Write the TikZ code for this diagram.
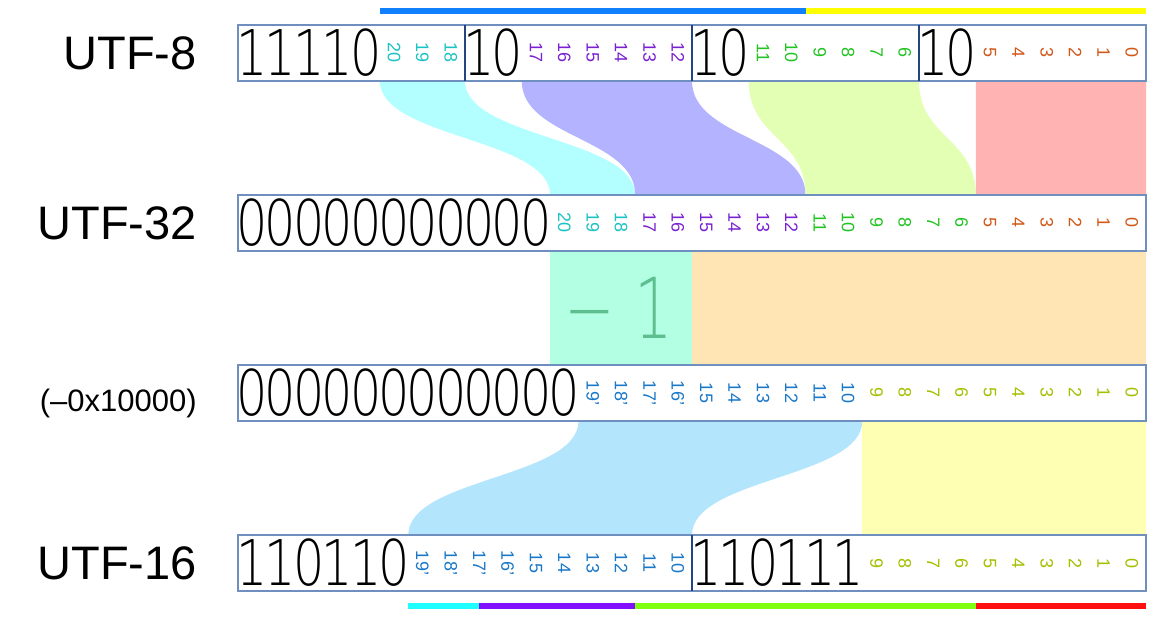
\documentclass[tikz,border=0pt]{standalone}
\usepackage{fontspec}
\setmainfont{Liberation Sans}
\newfontfamily\thinfont{DejaVu Sans ExtraLight}
\definecolor{boxline}{HTML}{6F8FBF}
\definecolor{divline}{HTML}{23467F}
\definecolor{cyanbit}{HTML}{1CC2C4}
\definecolor{purplebit}{HTML}{7A22D2}
\definecolor{greenbit}{HTML}{22C422}
\definecolor{orangebit}{HTML}{D2581A}
\definecolor{bluebit}{HTML}{1A78C8}
\definecolor{olivebit}{HTML}{A6C000}
\definecolor{cyanrib}{HTML}{B3FFFF}
\definecolor{purplerib}{HTML}{B3B3FF}
\definecolor{greenrib}{HTML}{E2FFB3}
\definecolor{redrib}{HTML}{FFB3B3}
\definecolor{mintrib}{HTML}{B3FFE3}
\definecolor{peachrib}{HTML}{FFE5B3}
\definecolor{bluerib}{HTML}{B3E5FC}
\definecolor{yellowrib}{HTML}{FFFFB3}
\definecolor{minusone}{HTML}{5DBF8F}
\definecolor{barblue}{HTML}{1080FF}
\definecolor{baryellow}{HTML}{FFFF00}
\definecolor{barcyan}{HTML}{20FFFF}
\definecolor{barpurple}{HTML}{8010FF}
\definecolor{bargreen}{HTML}{80FF10}
\definecolor{barred}{HTML}{FF1010}
\tikzset{
  bitbox/.style={draw=boxline, line width=1.3pt, fill=white},
  divider/.style={draw=divline, line width=1.2pt},
  bignum/.style={font=\thinfont\fontsize{63}{63}\selectfont, xscale=0.78, inner sep=0pt},
  smallnum/.style={font=\fontsize{18}{18}\selectfont, rotate=-90, inner sep=0pt},
  codename/.style={font=\fontsize{47}{47}\selectfont, anchor=east, inner sep=0pt},
  bar/.style={line width=6pt},
}

\begin{document}
\begin{tikzpicture}[x=28.375pt, y=-1pt]
\useasboundingbox (-8.3877,0) rectangle (32.352,617);

\foreach \ta/\tb/\ba/\bb/\col in {5/8/11/14/cyanrib, 10/16/14/20/purplerib, 18/24/20/26/greenrib, 26/32/26/32/redrib}{
	\fill[\col] (\ta,81) .. controls (\ta,138) and (\ba,138) .. (\ba,195) -- (\bb,195) .. controls (\bb,138) and (\tb,138) .. (\tb,81) -- cycle;
}
\fill[mintrib] (11,251) rectangle (16,365);
\fill[peachrib] (16,251) rectangle (32,365);
\fill[bluerib] (12,421) .. controls (12,478) and (6,478) .. (6,535) -- (16,535) .. controls (16,478) and (22,478) .. (22,421) -- cycle;
\fill[yellowrib] (22,421) rectangle (32,535);
\node[inner sep=0pt, text=minusone, font=\thinfont\fontsize{84}{84}\selectfont, xscale=0.72] (minus) at (13.43,308) {− 1};

\draw[bar, barblue] (5,11) -- (20,11);
\draw[bar, baryellow] (20,11) -- (32,11);
\draw[bar, barcyan] (6,606) -- (8.5,606);
\draw[bar, barpurple] (8.5,606) -- (14,606);
\draw[bar, bargreen] (14,606) -- (26,606);
\draw[bar, barred] (26,606) -- (32,606);

\node[codename] (utf8) at (-1.45,53) {UTF-8};
\node[codename] (utf32) at (-1.45,223) {UTF-32};
\node[codename, font=\fontsize{31}{31}\selectfont] (offset) at (-1.45,403) {(–0x10000)};
\node[codename] (utf16) at (-1.45,563) {UTF-16};

\draw[bitbox] (0,25) rectangle (32,81);
\foreach \x in {8,16,24}{
	\draw[divider] (\x,25) -- (\x,81);
}
\foreach \d [count=\i from 0] in {1,1,1,1,0}{
	\node[bignum] (a\i) at (\i+0.5,53) {\d};
}
\foreach \x in {8,16,24}{
	\node[bignum] (b\x) at (\x+0.5,53) {1};
	\node[bignum] (c\x) at (\x+1.5,53) {0};
}
\foreach \n [count=\i from 5] in {20,19,18}{
	\node[smallnum, text=cyanbit] (p\i) at (\i+0.5,53) {\n};
}
\foreach \n [count=\i from 10] in {17,16,...,12}{
	\node[smallnum, text=purplebit] (p\i) at (\i+0.5,53) {\n};
}
\foreach \n [count=\i from 18] in {11,10,...,6}{
	\node[smallnum, text=greenbit] (p\i) at (\i+0.5,53) {\n};
}
\foreach \n [count=\i from 26] in {5,4,...,0}{
	\node[smallnum, text=orangebit] (p\i) at (\i+0.5,53) {\n};
}

\draw[bitbox] (0,195) rectangle (32,251);
\foreach \i in {0,...,10}{
	\node[bignum] (z\i) at (\i+0.5,223) {0};
}
\foreach \i in {11,...,31}{
	\pgfmathtruncatemacro{\n}{31-\i}
	\ifnum\i<14 \def\col{cyanbit}\else\ifnum\i<20 \def\col{purplebit}\else\ifnum\i<26 \def\col{greenbit}\else\def\col{orangebit}\fi\fi\fi
	\node[smallnum, text=\col] (q\i) at (\i+0.5,223) {\n};
}

\draw[bitbox] (0,365) rectangle (32,421);
\foreach \i in {0,...,11}{
	\node[bignum] (y\i) at (\i+0.5,393) {0};
}
\foreach \n [count=\i from 12] in {19',18',17',16',15,14,13,12,11,10}{
	\node[smallnum, text=bluebit] (r\i) at (\i+0.5,393) {\n};
}
\foreach \n [count=\i from 22] in {9,8,...,0}{
	\node[smallnum, text=olivebit] (r\i) at (\i+0.5,393) {\n};
}

\draw[bitbox] (0,535) rectangle (32,591);
\draw[divider] (16,535) -- (16,591);
\foreach \d [count=\i from 0] in {1,1,0,1,1,0}{
	\node[bignum] (h\i) at (\i+0.5,563) {\d};
}
\foreach \d [count=\i from 16] in {1,1,0,1,1,1}{
	\node[bignum] (l\i) at (\i+0.5,563) {\d};
}
\foreach \n [count=\i from 6] in {19',18',17',16',15,14,13,12,11,10}{
	\node[smallnum, text=bluebit] (s\i) at (\i+0.5,563) {\n};
}
\foreach \n [count=\i from 22] in {9,8,...,0}{
	\node[smallnum, text=olivebit] (s\i) at (\i+0.5,563) {\n};
}
\end{tikzpicture}
\end{document}
